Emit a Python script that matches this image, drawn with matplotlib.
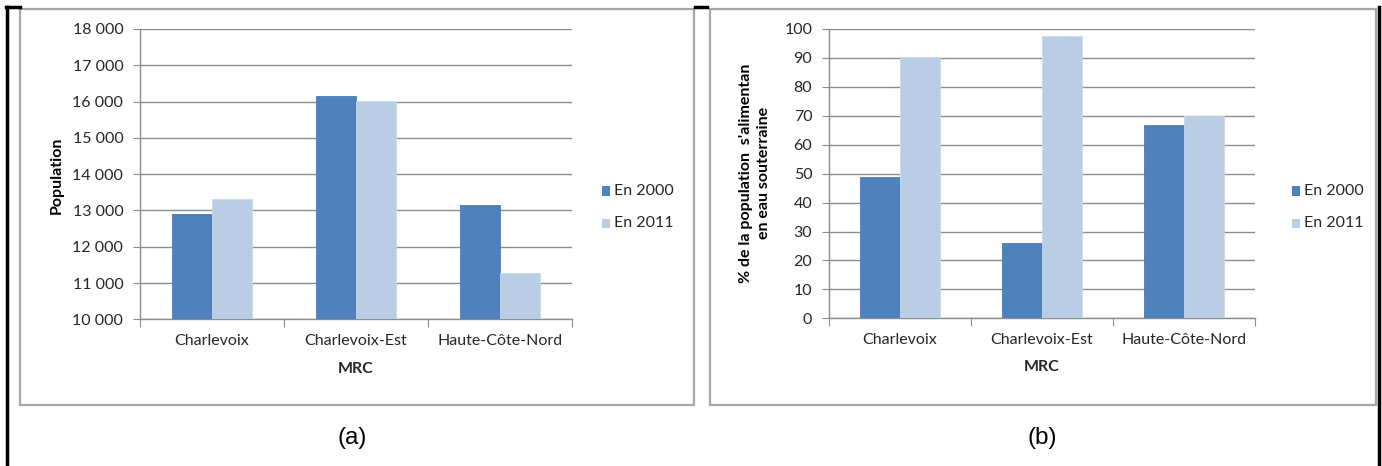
import matplotlib
matplotlib.use("Agg")
import matplotlib.pyplot as plt
from matplotlib.patches import Rectangle
from matplotlib.lines import Line2D
import numpy as np

categories = ["Charlevoix", "Charlevoix-Est", "Haute-Côte-Nord"]
series_names = ["En 2000", "En 2011"]
population_2000 = [12910, 16157, 13149]
population_2011 = [13322, 16028, 11275]
pct_2000 = [49.0, 26.0, 66.7]
pct_2011 = [90.4, 97.6, 69.9]
pop_ticks = [10000, 11000, 12000, 13000, 14000, 15000, 16000, 17000, 18000]
pop_tick_labels = ["10 000", "11 000", "12 000", "13 000", "14 000", "15 000", "16 000", "17 000", "18 000"]
pct_ticks = [0, 10, 20, 30, 40, 50, 60, 70, 80, 90, 100]

W, H = 1382, 466
DPI = 100
C_DARK = "#4F81BD"
C_LIGHT = "#B9CDE5"
GRID = "#8c8c8c"
FONT = "Lato"
FS = 11.5

fig = plt.figure(figsize=(W / DPI, H / DPI), dpi=DPI)
fig.patch.set_facecolor("white")

def fx(x):
    return x / W

def fy(y):
    return 1 - y / H

# table-like black borders
fig.add_artist(Line2D([fx(7), fx(7)], [fy(7), fy(466)], color="black", lw=2.5))
fig.add_artist(Line2D([fx(6), fx(20)], [fy(7), fy(7)], color="black", lw=2.5))
fig.add_artist(Line2D([fx(695), fx(707)], [fy(7), fy(7)], color="black", lw=2.5))
fig.add_artist(Line2D([fx(1379), fx(1379)], [fy(7), fy(466)], color="black", lw=2.5))

# chart boxes
for x0, x1 in [(20, 694), (710, 1376)]:
    fig.add_artist(Rectangle((fx(x0), fy(405)), fx(x1 - x0), (405 - 9) / H,
                             facecolor="white", edgecolor="#a6a6a6", lw=1.6,
                             transform=fig.transFigure, zorder=0))


def make_axes(px0, px1, ptop, pbot):
    return fig.add_axes([fx(px0), fy(pbot), fx(px1 - px0), (pbot - ptop) / H])


def style(ax, vals_a, vals_b, ylim, yticks, ylabels):
    x = np.arange(len(categories))
    w = 0.28
    ax.bar(x - w / 2, vals_a, w, color=C_DARK, label=series_names[0], zorder=3,
           edgecolor="#4a7ab5", linewidth=0.6)
    ax.bar(x + w / 2, vals_b, w, color=C_LIGHT, label=series_names[1], zorder=3,
           edgecolor="#c8d8ec", linewidth=0.6)
    ax.set_xlim(-0.5, len(categories) - 0.5)
    ax.set_ylim(*ylim)
    ax.set_yticks(yticks)
    ax.set_yticklabels(ylabels, fontsize=FS, family=FONT, color="#262626")
    ax.yaxis.grid(True, color=GRID, lw=1.0, zorder=0)
    ax.set_axisbelow(True)
    ax.set_xticks([-0.5, 0.5, 1.5, 2.5])
    ax.set_xticklabels([])
    ax.tick_params(axis="x", length=6, color=GRID, direction="out")
    ax.tick_params(axis="y", length=5, color=GRID, direction="out", pad=7)
    for s in ["top", "right"]:
        ax.spines[s].set_visible(False)
    for s in ["left", "bottom"]:
        ax.spines[s].set_color(GRID)
        ax.spines[s].set_linewidth(1.0)
    for i, c in enumerate(categories):
        ax.text(i, -0.075, c, transform=ax.get_xaxis_transform(), ha="center", va="center",
                fontsize=FS, family=FONT, color="#262626")
    ax.text(0.5, -0.17, "MRC", transform=ax.transAxes, ha="center", va="center",
            fontsize=FS, family=FONT, fontweight="bold", color="#262626")
    ax.patch.set_alpha(0)


ax1 = make_axes(140, 572, 29, 319.3)
style(ax1, population_2000, population_2011, (10000, 18000), pop_ticks, pop_tick_labels)
fig.text(fx(57), fy(175), "Population", rotation=90, ha="center", va="center",
         fontsize=FS, family=FONT, fontweight="bold", color="black")

ax2 = make_axes(829, 1255, 29, 318.3)
style(ax2, pct_2000, pct_2011, (0, 100), pct_ticks, [str(t) for t in pct_ticks])
fig.text(fx(746), fy(173), "% de la population  s'alimentan", rotation=90, ha="center",
         va="center", fontsize=FS, family=FONT, fontweight="bold", color="black")
fig.text(fx(764), fy(173), "en eau souterraine", rotation=90, ha="center",
         va="center", fontsize=FS, family=FONT, fontweight="bold", color="black")

# legends
for lx in (602, 1292):
    for yy, col, name in [(191, C_DARK, series_names[0]), (223, C_LIGHT, series_names[1])]:
        fig.add_artist(Rectangle((fx(lx), fy(yy + 4.5)), fx(8), 9 / H, facecolor=col,
                                 edgecolor="none", transform=fig.transFigure))
        fig.text(fx(lx + 12), fy(yy), name, ha="left", va="center", fontsize=FS,
                 family=FONT, color="#262626")

# captions
fig.text(fx(352), fy(438), "(a)", ha="center", va="center", fontsize=17.5,
         family="Liberation Sans", color="black")
fig.text(fx(1042), fy(438), "(b)", ha="center", va="center", fontsize=17.5,
         family="Liberation Sans", color="black")

fig.savefig("out.png", dpi=DPI, facecolor="white")
